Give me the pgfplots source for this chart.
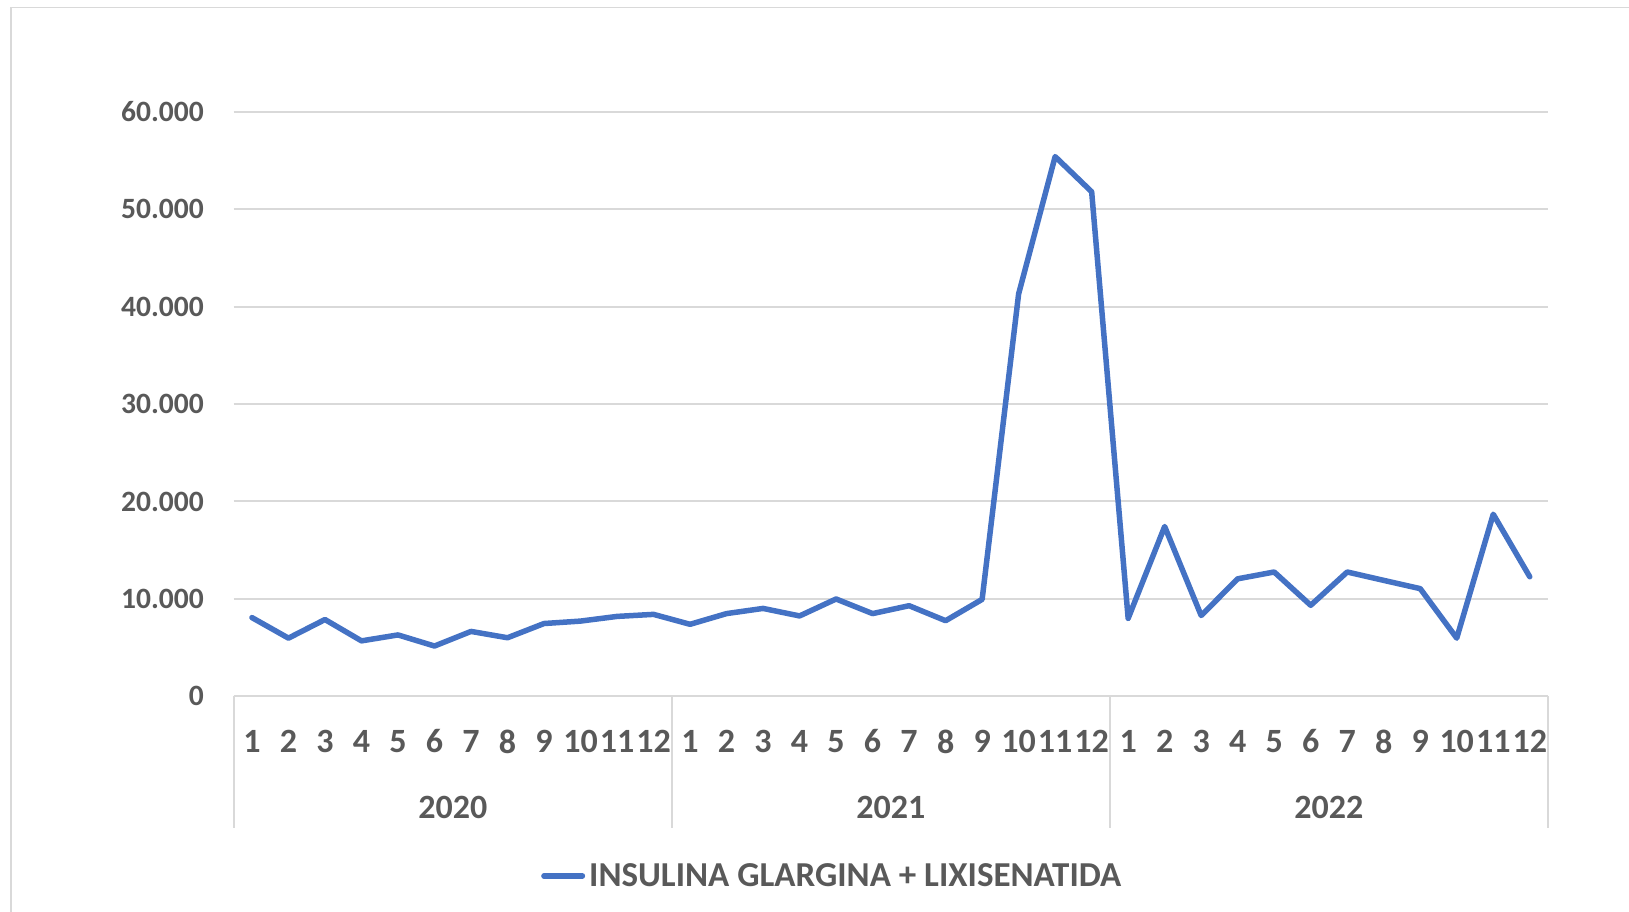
\documentclass[border=0pt]{standalone}
\usepackage{fontspec}
\setmainfont{Carlito}
\usepackage{pgfplots}
\usepackage{pgfplotstable}
\pgfplotsset{compat=1.18}
\definecolor{txt}{HTML}{595959}
\definecolor{grd}{HTML}{D9D9D9}
\definecolor{ser}{HTML}{4472C4}

\pgfplotstableread{
idx val
0 8080
1 5970
2 7880
3 5690
4 6300
5 5160
6 6660
7 6010
8 7470
9 7720
10 8200
11 8410
12 7390
13 8490
14 9020
15 8250
16 9990
17 8490
18 9300
19 7760
20 9950
21 41310
22 55400
23 51790
24 8000
25 17430
26 8290
27 12060
28 12760
29 9340
30 12760
31 11900
32 11050
33 5970
34 18690
35 12270
}\datatable

\begin{document}
\begin{tikzpicture}[x=1pt,y=1pt]
\useasboundingbox (0,0) rectangle (1629,912);
\clip (0,0) rectangle (1629,912);
\draw[grd, line width=1.5pt] (11,-20) -- (11,904.7) -- (1660,904.7);
\begin{axis}[
  at={(233.7pt,215.7pt)}, anchor=south west,
  scale only axis, width=1314.3pt, height=584.5pt,
  xmin=-0.5, xmax=35.5, ymin=0, ymax=60000,
  axis line style={draw=none},
  ymajorgrids, grid style={grd, line width=2pt},
  major tick length=0pt,
  clip=false,
  scaled y ticks=false,
  ytick={0,10000,20000,30000,40000,50000,60000},
  /pgf/number format/1000 sep={.},
  /pgf/number format/assume math mode=true,
  yticklabel style={font=\fontsize{29.5}{34}\selectfont\bfseries, text=txt, inner sep=0pt, anchor=east, xshift=-29.7pt},
  xtick={0,...,35},
  xticklabels={1,2,3,4,5,6,7,8,9,10,11,12,1,2,3,4,5,6,7,8,9,10,11,12,1,2,3,4,5,6,7,8,9,10,11,12},
  xticklabel style={font=\fontsize{34}{40}\selectfont\bfseries, text=txt, inner sep=0pt, anchor=center, yshift=-45.2pt},
  legend style={at={(axis description cs:0.2338,-0.3074)}, anchor=west, draw=none, fill=none, inner sep=0pt,
    font=\fontsize{35}{40}\selectfont\bfseries, text=txt,
    nodes={inner sep=0pt},
    /tikz/every odd column/.append style={column sep=4pt}},
  legend image code/.code={\draw[#1, line width=5.5pt, line cap=round] (2.75pt,0pt) -- (41.25pt,0pt);},
]
\addplot[ser, line width=5.5pt, line join=round, line cap=round] table[x=idx, y=val] {\datatable};
\legend{INSULINA GLARGINA + LIXISENATIDA}
\pgfplotsinvokeforeach{-0.5,11.5,23.5,35.5}{
  \draw[grd, line width=2pt] (axis cs:#1,0) -- ([yshift=-132pt]axis cs:#1,0);
}
\node[font=\fontsize{34}{40}\selectfont\bfseries, text=txt, inner sep=0pt, anchor=center] at ([yshift=-111.2pt]axis cs:5.5,0) {2020};
\node[font=\fontsize{34}{40}\selectfont\bfseries, text=txt, inner sep=0pt, anchor=center] at ([yshift=-111.2pt]axis cs:17.5,0) {2021};
\node[font=\fontsize{34}{40}\selectfont\bfseries, text=txt, inner sep=0pt, anchor=center] at ([yshift=-111.2pt]axis cs:29.5,0) {2022};
\end{axis}
\end{tikzpicture}
\end{document}
